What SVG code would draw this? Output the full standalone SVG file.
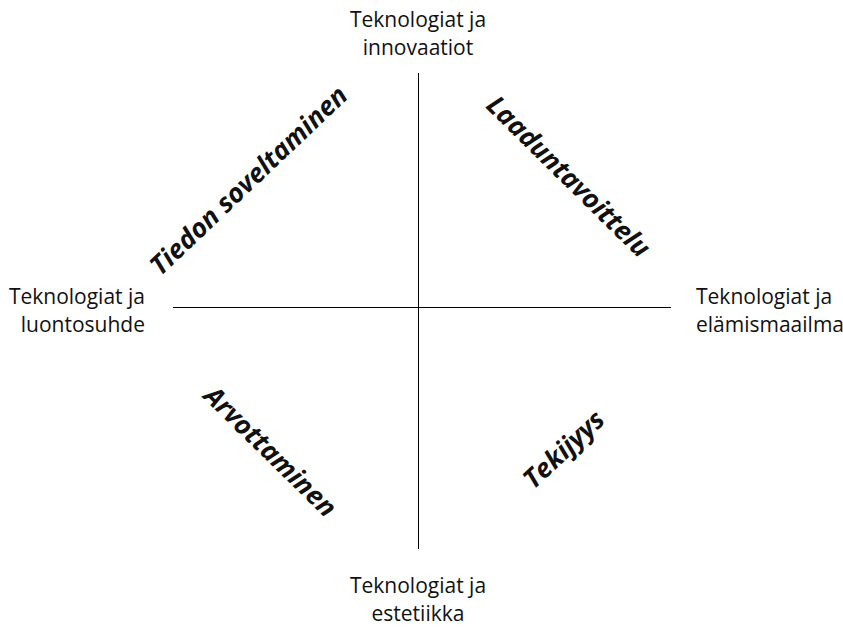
<svg xmlns="http://www.w3.org/2000/svg" width="843" height="627" viewBox="0 0 843 627">
  <style>
    .axis { stroke: #000; stroke-width: 1; fill: none; }
    .lbl { font-family: "Open Sans", "Liberation Sans", sans-serif; font-size: 21px; fill: #111; }
    .theme { font-family: "Open Sans", "DejaVu Sans", sans-serif; font-size: 26.5px; font-weight: bold; font-style: italic; fill: #111; text-anchor: middle; }
  </style>
  <rect width="843" height="627" fill="#fff"/>
  <g id="connectors">
    <line class="axis" x1="418.5" y1="73" x2="418.5" y2="549"/>
    <line class="axis" x1="173" y1="307.5" x2="671" y2="307.5"/>
  </g>
  <g id="top-label">
    <text class="lbl" x="418" y="27" text-anchor="middle">Teknologiat ja</text>
    <text class="lbl" x="418" y="55" text-anchor="middle">innovaatiot</text>
  </g>
  <g id="left-label">
    <text class="lbl" x="145" y="304" text-anchor="end">Teknologiat ja</text>
    <text class="lbl" x="145" y="332" text-anchor="end">luontosuhde</text>
  </g>
  <g id="right-label">
    <text class="lbl" x="696" y="304">Teknologiat ja</text>
    <text class="lbl" x="696" y="332">elämismaailma</text>
  </g>
  <g id="bottom-label">
    <text class="lbl" x="418" y="593" text-anchor="middle">Teknologiat ja</text>
    <text class="lbl" x="418" y="621" text-anchor="middle">estetiikka</text>
  </g>
  <g id="theme-tiedon">
    <text class="theme" transform="translate(255,187) rotate(-43.5)">Tiedon soveltaminen</text>
  </g>
  <g id="theme-laadunta">
    <text class="theme" transform="translate(562,183) rotate(44.5)">Laaduntavoittelu</text>
  </g>
  <g id="theme-arvottaminen">
    <text class="theme" transform="translate(264,458) rotate(44.5)">Arvottaminen</text>
  </g>
  <g id="theme-tekijyys">
    <text class="theme" transform="translate(570,456) rotate(-43)">Tekijyys</text>
  </g>
</svg>
